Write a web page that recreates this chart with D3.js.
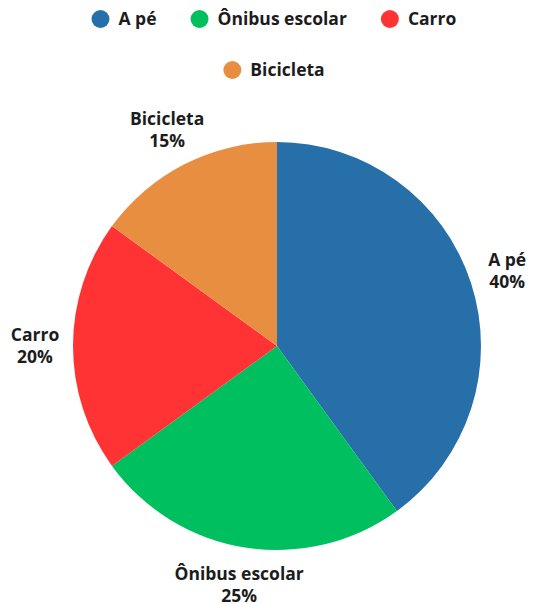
<!DOCTYPE html>
<html>
<head>
<meta charset="utf-8">
<script src="https://cdn.jsdelivr.net/npm/d3@7"></script>
<style>
  body { margin: 0; background: #fff; }
  text { font-family: "Open Sans", Lato, sans-serif; font-weight: 700; fill: #1c1c1c; }
</style>
</head>
<body>
<div id="chart"></div>
<script>
// Data
const categories = ["A pé", "Ônibus escolar", "Carro", "Bicicleta"];
const values = [40, 25, 20, 15];
const colors = ["#276fa8", "#00bf5f", "#ff3333", "#e88e40"];

const width = 535, height = 604;
const cx = 277, cy = 346, radius = 204, labelRadius = 242;

const svg = d3.select("#chart")
    .append("svg")
    .attr("width", width)
    .attr("height", height);

const color = d3.scaleOrdinal().domain(categories).range(colors);

const data = categories.map((c, i) => ({ name: c, value: values[i] }));

// Pie
const pie = d3.pie().value(d => d.value).sort(null);
const arc = d3.arc().innerRadius(0).outerRadius(radius);
const labelArc = d3.arc().innerRadius(labelRadius).outerRadius(labelRadius);

const g = svg.append("g")
    .attr("transform", `translate(${cx},${cy})`);

const arcs = pie(data);

g.selectAll("path")
    .data(arcs)
    .enter()
    .append("path")
    .attr("d", arc)
    .attr("fill", d => color(d.data.name));

// Labels
const labels = g.selectAll(".label")
    .data(arcs)
    .enter()
    .append("text")
    .attr("class", "label")
    .attr("text-anchor", "middle")
    .style("font-size", "17.5px")
    .attr("transform", d => `translate(${labelArc.centroid(d)})`);

labels.append("tspan")
    .attr("x", 0)
    .attr("dy", "-0.28em")
    .text(d => d.data.name);

labels.append("tspan")
    .attr("x", 0)
    .attr("dy", "1.25em")
    .text(d => d.data.value + "%");

// Legend (wrapped rows, centered)
const legend = svg.append("g");
const items = legend.selectAll(".item")
    .data(categories)
    .enter()
    .append("g")
    .attr("class", "item");

items.append("circle")
    .attr("r", 9)
    .attr("cx", 9)
    .attr("cy", 0)
    .attr("fill", d => color(d));

items.append("text")
    .attr("x", 27)
    .attr("y", 0)
    .attr("dy", "0.35em")
    .style("font-size", "17.5px")
    .text(d => d);

const itemGap = 34, maxRow = 440, centerX = 274;
const widths = [];
items.each(function() { widths.push(this.getBBox().width); });

const rows = [];
let row = [], rowW = 0;
widths.forEach((w, i) => {
    const add = row.length ? itemGap + w : w;
    if (row.length && rowW + add > maxRow) {
        rows.push({ idx: row, w: rowW });
        row = [i]; rowW = w;
    } else {
        row.push(i); rowW += add;
    }
});
rows.push({ idx: row, w: rowW });

const pos = [];
rows.forEach((r, ri) => {
    let x = centerX - r.w / 2;
    r.idx.forEach(i => {
        pos[i] = [x, 19 + ri * 51];
        x += widths[i] + itemGap;
    });
});

items.attr("transform", (d, i) => `translate(${pos[i][0]},${pos[i][1]})`);
</script>
</body>
</html>
